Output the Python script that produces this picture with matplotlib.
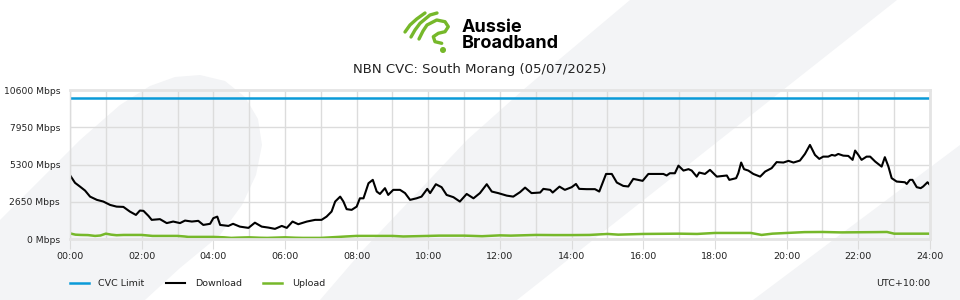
import matplotlib.pyplot as plt
from matplotlib.patches import Polygon, Circle

# Data (hours since midnight, Mbps)
cvc_limit = 10000

dl_hours = [0.00, 0.14, 0.28, 0.42, 0.56, 0.75, 0.93, 1.12, 1.30, 1.49, 1.67, 1.84, 1.95,
            2.05, 2.19, 2.28, 2.51, 2.70, 2.88, 3.07, 3.21, 3.40, 3.58, 3.72, 3.91, 4.00,
            4.11, 4.19, 4.42, 4.55, 4.74, 4.98, 5.16, 5.35, 5.54, 5.72, 5.91, 6.05, 6.21,
            6.37, 6.61, 6.84, 7.02, 7.16, 7.30, 7.40, 7.54, 7.63, 7.72, 7.86, 8.00, 8.09,
            8.19, 8.33, 8.45, 8.56, 8.65, 8.79, 8.88, 9.02, 9.21, 9.35, 9.49, 9.67, 9.81,
            9.97, 10.05, 10.21, 10.37, 10.51, 10.70, 10.88, 11.07, 11.26, 11.44, 11.63,
            11.77, 11.95, 12.19, 12.37, 12.56, 12.70, 12.88, 13.12, 13.21, 13.40, 13.47,
            13.66, 13.81, 14.00, 14.12, 14.21, 14.42, 14.65, 14.77, 14.96, 15.12, 15.26,
            15.44, 15.58, 15.72, 15.98, 16.14, 16.33, 16.56, 16.65, 16.74, 16.88, 16.98,
            17.12, 17.26, 17.35, 17.49, 17.56, 17.72, 17.86, 18.05, 18.33, 18.40, 18.59,
            18.65, 18.73, 18.81, 18.93, 19.07, 19.26, 19.40, 19.58, 19.72, 19.91, 20.05,
            20.19, 20.37, 20.51, 20.65, 20.79, 20.91, 21.02, 21.16, 21.26, 21.35, 21.44,
            21.58, 21.72, 21.84, 21.91, 22.00, 22.09, 22.23, 22.33, 22.47, 22.65, 22.74,
            22.84, 22.93, 23.07, 23.30, 23.35, 23.44, 23.51, 23.63, 23.74, 23.81, 23.93,
            24.00]
dl_mbps = [4550, 4010, 3740, 3460, 3030, 2800, 2680, 2440, 2320, 2300, 1970, 1730, 2040,
           2020, 1660, 1380, 1430, 1150, 1260, 1150, 1330, 1260, 1310, 1020, 1100, 1500,
           1610, 1020, 950, 1100, 900, 810, 1180, 900, 830, 740, 950, 810, 1260,
           1070, 1260, 1380, 1380, 1610, 1970, 2680, 3030, 2680, 2140, 2090, 2320, 2910,
           2910, 3980, 4220, 3390, 3220, 3630, 3150, 3510, 3510, 3280, 2800, 2910, 3030,
           3580, 3280, 3910, 3700, 3150, 2990, 2680, 3220, 2910, 3280, 3910,
           3390, 3280, 3100, 3030, 3350, 3670, 3280, 3320, 3580, 3510, 3320,
           3740, 3510, 3700, 3930, 3580, 3560, 3560, 3390, 4640, 4640, 4030,
           3790, 3750, 4290, 4150, 4640, 4640, 4640, 4530, 4690, 4690, 5230,
           4880, 4980, 4880, 4450, 4740, 4640, 4930, 4450, 4530, 4220, 4340,
           4690, 5450, 4980, 4880, 4640, 4450, 4810, 5050, 5480, 5450, 5570,
           5450, 5590, 6060, 6700, 5990, 5710, 5870, 5870, 5990, 5940, 6060,
           5940, 5920, 5640, 6300, 5990, 5640, 5870, 5870, 5520, 5160, 5830,
           5160, 4340, 4100, 4050, 3930, 4220, 4220, 3700, 3630, 3750, 4050,
           3860]

ul_hours = [0.0, 0.15, 0.3, 0.5, 0.7, 0.85, 1.0, 1.15, 1.3, 1.5, 2.0, 2.3, 3.0, 3.2, 3.3,
            4.0, 4.3, 4.5, 4.7, 5.0, 5.3, 5.5, 6.0, 6.3, 6.5, 7.0, 7.5, 7.7, 8.0, 9.0,
            9.3, 10.0, 10.3, 11.0, 11.5, 12.0, 12.3, 13.0, 13.5, 14.0, 14.5, 15.0, 15.3,
            16.0, 17.0, 17.5, 18.0, 18.5, 19.0, 19.3, 19.6, 20.0, 20.5, 21.0, 21.5, 22.0,
            22.5, 22.8, 23.0, 23.5, 24.0]
ul_mbps = [420, 330, 310, 300, 240, 270, 400, 330, 290, 310, 310, 240, 240, 200, 170,
           170, 140, 100, 120, 140, 110, 100, 140, 110, 100, 100, 170, 200, 240, 240,
           200, 240, 260, 260, 220, 280, 260, 310, 300, 300, 310, 380, 330,
           380, 400, 380, 450, 450, 450, 310, 400, 450, 510, 520, 490, 500,
           510, 520, 400, 400, 400]

y_ticks = [0, 2650, 5300, 7950, 10600]
x_ticks = list(range(0, 25, 2))
x_labels = [f"{h:02d}:00" for h in x_ticks]

title = "NBN CVC: South Morang (05/07/2025)"

BLUE = '#0a9ad8'
GREEN = '#76b82a'
GRAY_BG = '#f3f4f6'
GRID = '#dcdcdc'
TXT = '#222222'

fig = plt.figure(figsize=(9.6, 3.0), dpi=100)
fig.patch.set_facecolor('white')

# background decoration, drawn in pixel coordinates
bg = fig.add_axes([0, 0, 1, 1], zorder=0)
bg.set_xlim(0, 960)
bg.set_ylim(300, 0)
bg.axis('off')
leaf = [(0, 300), (0, 220), (40, 180), (80, 140), (120, 105), (150, 86), (175, 77),
        (200, 75), (225, 81), (245, 97), (258, 119), (262, 145), (256, 175),
        (242, 205), (220, 235), (180, 268), (145, 300)]
band = [(630, 0), (897, 0), (517, 300), (320, 300), (363, 250), (467, 140), (523, 90)]
corner = [(753, 300), (960, 145), (960, 300)]
for pts in (leaf, band, corner):
    bg.add_patch(Polygon(pts, closed=True, facecolor=GRAY_BG, edgecolor='none'))

# logo
logo_strokes = [
    [(405, 32), (410, 25), (416.7, 19), (425, 13)],
    [(411, 37), (415, 30), (420, 23.3), (430, 15), (437, 13)],
    [(419, 39), (423, 31), (427, 25), (436.7, 20), (445, 21.7), (448.3, 26.7),
     (445, 31.7), (438.3, 33.3), (433.3, 36.7), (435, 41.7), (441.7, 43.3)],
]
for s in logo_strokes:
    bg.plot([p[0] for p in s], [p[1] for p in s], color=GREEN, lw=2.4,
            solid_capstyle='round', solid_joinstyle='round')
bg.add_patch(Circle((443, 50), 2.3, color=GREEN))
bg.text(462, 32.5, "Aussie", fontsize=13, fontweight='bold', family='Inter',
        color='black', va='baseline', ha='left')
bg.text(462, 48, "Broadband", fontsize=13, fontweight='bold', family='Inter',
        color='black', va='baseline', ha='left')
bg.text(480, 70, title, fontsize=9.5, color=TXT, ha='center', va='center')

# main chart
ax = fig.add_axes([70 / 960, 1 - 239.3 / 300, 860 / 960, (239.3 - 90) / 300], zorder=1)
ax.set_facecolor('none')
ax.plot([0, 24], [cvc_limit, cvc_limit], color=BLUE, lw=1.8, label='CVC Limit')
ax.plot(dl_hours, dl_mbps, color='black', lw=1.5, label='Download')
ax.plot(ul_hours, ul_mbps, color=GREEN, lw=1.8, label='Upload')

ax.set_xlim(0, 24)
ax.set_ylim(0, 10600)
ax.set_xticks(x_ticks)
ax.set_xticklabels(x_labels)
ax.set_xticks(range(0, 25), minor=True)
ax.set_yticks(y_ticks)
ax.set_yticklabels([f"{v} Mbps" for v in y_ticks])
ax.grid(True, which='both', color=GRID, lw=1)
ax.set_axisbelow(True)
ax.tick_params(axis='x', which='major', length=7, color=GRID, labelsize=6.8, pad=2,
               labelcolor=TXT)
ax.tick_params(axis='x', which='minor', length=1, color=GRID)
ax.tick_params(axis='y', length=0, labelsize=6.6, pad=7.2, labelcolor=TXT)
for side in ('top', 'bottom', 'right'):
    ax.spines[side].set_color('#e4e4e4')
    ax.spines[side].set_linewidth(2)
ax.spines['left'].set_color(GRID)
ax.spines['left'].set_linewidth(1)

leg = ax.legend(loc='center left', bbox_to_anchor=(70 / 960, 1 - 284 / 300),
                bbox_transform=fig.transFigure, ncol=3, frameon=False, fontsize=6.8,
                handlelength=2.0, handletextpad=1.0, columnspacing=2.3,
                borderpad=0, borderaxespad=0)
for t in leg.get_texts():
    t.set_color(TXT)

fig.text(930 / 960, 1 - 284 / 300, "UTC+10:00", fontsize=6.8, color=TXT,
         ha='right', va='center')

fig.savefig('out.png', dpi=100)
